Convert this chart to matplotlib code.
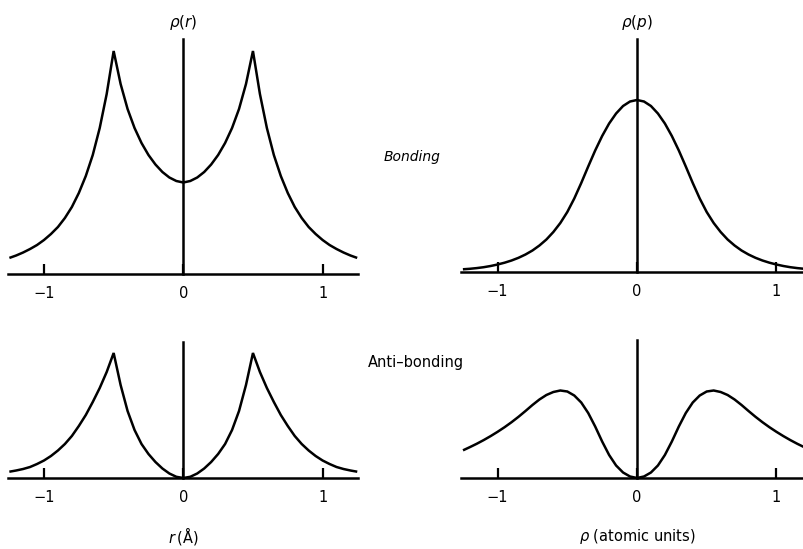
import matplotlib
matplotlib.use('Agg')
import matplotlib.pyplot as plt

plt.rcParams['font.family'] = ['DejaVu Sans']
plt.rcParams['mathtext.fontset'] = 'dejavusans'

# sample positions (r in Angstrom for left panels, p in atomic units for right panels)
grid = [-1.24, -1.20, -1.15, -1.10, -1.05, -1.00, -0.95, -0.90, -0.85, -0.80,
        -0.75, -0.70, -0.65, -0.60, -0.55, -0.50, -0.45, -0.40, -0.35, -0.30,
        -0.25, -0.20, -0.15, -0.10, -0.05, 0.00, 0.05, 0.10, 0.15, 0.20,
        0.25, 0.30, 0.35, 0.40, 0.45, 0.50, 0.55, 0.60, 0.65, 0.70,
        0.75, 0.80, 0.85, 0.90, 0.95, 1.00, 1.05, 1.10, 1.15, 1.20, 1.24]

# densities (arbitrary units)
bond_r = [16.5, 18.5, 21.5, 25, 29, 34, 40, 47, 56, 67,
          81, 98, 119, 146, 180, 223, 190, 165, 146, 131,
          119, 109.5, 102, 96.5, 93, 91.5, 93, 96.5, 102, 109.5,
          119, 131, 146, 165, 190, 223, 180, 146, 119, 98,
          81, 67, 56, 47, 40, 34, 29, 25, 21.5, 18.5, 16.5]

anti_r = [6.5, 7.5, 9, 11, 14, 17.5, 22, 27.5, 34, 42,
          52, 63, 76, 90, 106, 125, 93, 67, 48, 34,
          24, 16, 9.5, 4.5, 1.2, 0, 1.2, 4.5, 9.5, 16,
          24, 34, 48, 67, 93, 125, 106, 90, 76, 63,
          52, 42, 34, 27.5, 22, 17.5, 14, 11, 9, 7.5, 6.5]

bond_p = [2.8, 3.2, 3.9, 4.8, 6, 7.5, 9.3, 11.5, 14.2, 17.5,
          21.5, 26.5, 32.5, 40, 49, 60, 73.5, 89, 105.5, 121.5,
          136, 148.5, 158.5, 166, 170.5, 172, 170.5, 166, 158.5, 148.5,
          136, 121.5, 105.5, 89, 73.5, 60, 49, 40, 32.5, 26.5,
          21.5, 17.5, 14.2, 11.5, 9.3, 7.5, 6, 4.8, 3.9, 3.2, 2.8]

anti_p = [28.2, 30.8, 34.2, 37.9, 41.9, 46.2, 50.8, 55.8, 61.2, 67,
          73, 78.5, 83, 86, 87.5, 86.5, 82.5, 75.5, 65, 51.5,
          36.5, 23, 12.5, 5.5, 1.5, 0, 1.5, 5.5, 12.5, 23,
          36.5, 51.5, 65, 75.5, 82.5, 86.5, 87.5, 86, 83, 78.5,
          73, 67, 61.2, 55.8, 50.8, 46.2, 41.9, 37.9, 34.2, 30.8, 28.2]

tick_pos = [-1, 0, 1]
tick_lab = ['\u22121', '0', '1']

W, H = 804, 549
fig = plt.figure(figsize=(W / 100, H / 100), dpi=100)
fig.patch.set_facecolor('white')


def panel(x0, x1, zero, unit, base, top, ys):
    ax = fig.add_axes([x0 / W, (H - base) / H, (x1 - x0) / W, (base - top) / H])
    ax.set_xlim((x0 - zero) / unit, (x1 - zero) / unit)
    ax.set_ylim(0, base - top)
    ax.plot(grid, ys, color='black', lw=1.8, clip_on=False,
            solid_joinstyle='miter', zorder=3)
    for s in ['top', 'right']:
        ax.spines[s].set_visible(False)
    ax.spines['left'].set_position(('data', 0))
    ax.spines['left'].set_linewidth(1.8)
    ax.spines['bottom'].set_linewidth(1.8)
    ax.set_yticks([])
    ax.set_xticks(tick_pos)
    ax.set_xticklabels(tick_lab, fontsize=10.5)
    ax.tick_params(axis='x', direction='in', length=7, width=1.6, pad=9)
    ax.patch.set_alpha(0)
    return ax


panel(8, 358, 183.3, 139.3, 274, 39, bond_r)
panel(461, 804, 637, 139.4, 272, 39, bond_p)
panel(8, 358, 183.3, 139.3, 478, 342, anti_r)
panel(461, 804, 637, 139.4, 478, 340, anti_p)


def label(x, y, s, **kw):
    fig.text(x / W, 1 - y / H, s, ha='center', va='center', **kw)


label(183, 22, r'$\rho(r)$', fontsize=11)
label(637, 22, r'$\rho(p)$', fontsize=11)
label(412, 157, 'Bonding', fontsize=10, style='italic')
label(416, 363, 'Anti\u2013bonding', fontsize=10.5)
label(183, 536, r'$r\,$(Å)', fontsize=10.5)
label(637, 537, r'$\rho$ (atomic units)', fontsize=10.5)

fig.savefig('out.png', dpi=100, facecolor='white')
